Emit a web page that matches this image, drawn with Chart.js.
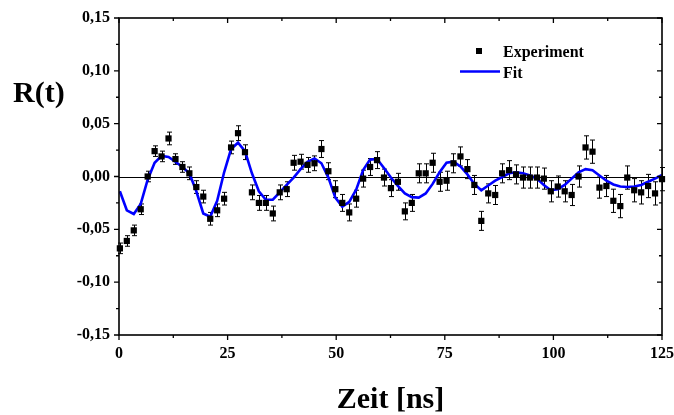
<!DOCTYPE html>
<html>
<head>
<meta charset="utf-8">
<script src="https://cdn.jsdelivr.net/npm/chart.js@4"></script>
<style>
  html, body { margin: 0; padding: 0; background: #fff; }
  #wrap { width: 674px; height: 415px; }
</style>
</head>
<body>
<div id="wrap"><canvas id="mainChart" width="674" height="415"></canvas></div>
<script>
// Data
var times = [0.2, 1.8, 3.4, 5.0, 6.6, 8.2, 9.8, 11.4, 13.0, 14.6,
  16.2, 17.8, 19.4, 21.0, 22.6, 24.2, 25.8, 27.4, 29.0, 30.6,
  32.2, 33.8, 35.4, 37.0, 38.6, 40.2, 41.8, 43.4, 45.0, 46.6,
  48.2, 49.8, 51.4, 53.0, 54.6, 56.2, 57.8, 59.4, 61.0, 62.6,
  64.2, 65.8, 67.4, 69.0, 70.6, 72.2, 73.8, 75.4, 77.0, 78.6,
  80.2, 81.8, 83.4, 85.0, 86.6, 88.2, 89.8, 91.4, 93.0, 94.6,
  96.2, 97.8, 99.4, 101.0, 102.6, 104.2, 105.8, 107.4, 109.0, 110.6,
  112.2, 113.8, 115.4, 117.0, 118.6, 120.2, 121.8, 123.4, 125.0];

var experiment = [-0.068, -0.061, -0.051, -0.031, 0.000, 0.024, 0.019, 0.036, 0.0165, 0.009,
  0.003, -0.010, -0.019, -0.040, -0.032, -0.021, 0.0275, 0.041, 0.023, -0.015,
  -0.025, -0.025, -0.035, -0.015, -0.012, 0.013, 0.014, 0.011, 0.0125, 0.026,
  0.005, -0.012, -0.025, -0.034, -0.021, -0.002, 0.009, 0.0155, -0.001, -0.011,
  -0.005, -0.033, -0.025, 0.003, 0.003, 0.013, -0.005, -0.004, 0.0125, 0.019,
  0.007, -0.008, -0.042, -0.016, -0.0175, 0.003, 0.006, 0.002, -0.001, -0.001,
  -0.001, -0.002, -0.014, -0.0095, -0.014, -0.0175, 0.000, 0.0275, 0.0235, -0.0105,
  -0.009, -0.023, -0.028, -0.001, -0.013, -0.015, -0.009, -0.016, -0.0025];

var errors = [0.005, 0.005, 0.005, 0.005, 0.005, 0.005, 0.005, 0.006, 0.005, 0.005,
  0.006, 0.006, 0.006, 0.006, 0.006, 0.006, 0.006, 0.007, 0.007, 0.007,
  0.007, 0.007, 0.007, 0.007, 0.007, 0.007, 0.007, 0.007, 0.007, 0.008,
  0.008, 0.008, 0.008, 0.008, 0.008, 0.008, 0.008, 0.008, 0.008, 0.008,
  0.008, 0.008, 0.008, 0.009, 0.009, 0.009, 0.009, 0.009, 0.009, 0.009,
  0.009, 0.009, 0.009, 0.009, 0.009, 0.009, 0.009, 0.009, 0.010, 0.010,
  0.010, 0.010, 0.010, 0.010, 0.010, 0.010, 0.010, 0.011, 0.011, 0.010,
  0.010, 0.011, 0.011, 0.011, 0.011, 0.011, 0.011, 0.011, 0.011];

var fit = [-0.014, -0.032, -0.0355, -0.026, -0.003, 0.013, 0.0195, 0.0185, 0.014, 0.009,
  0.003, -0.014, -0.035, -0.038, -0.023, 0.004, 0.026, 0.032, 0.024, 0.003,
  -0.014, -0.022, -0.022, -0.015, -0.008, -0.001, 0.007, 0.014, 0.017, 0.0125,
  -0.001, -0.020, -0.0285, -0.024, -0.0125, 0.006, 0.016, 0.0165, 0.008, -0.001,
  -0.009, -0.016, -0.0195, -0.020, -0.016, -0.007, 0.004, 0.013, 0.014, 0.0095,
  0.002, -0.007, -0.013, -0.0085, -0.004, -0.0005, 0.003, 0.004, 0.003, 0.001,
  -0.002, -0.008, -0.013, -0.012, -0.008, -0.002, 0.004, 0.007, 0.006, 0.001,
  -0.004, -0.0075, -0.0095, -0.010, -0.0095, -0.008, -0.005, -0.002, 0.0014];

var xTicks = [0, 25, 50, 75, 100, 125];
var xTickLabels = ["0", "25", "50", "75", "100", "125"];
var yTicks = [-0.15, -0.10, -0.05, 0.00, 0.05, 0.10, 0.15];
var yTickLabels = ["-0,15", "-0,10", "-0,05", "0,00", "0,05", "0,10", "0,15"];

var FONT = "'Liberation Serif', 'Times New Roman', serif";
var BLUE = "#0000ff";

function findLabel(v, vals, labels) {
  for (var i = 0; i < vals.length; i++) {
    if (Math.abs(vals[i] - v) < 1e-6) return labels[i];
  }
  return "";
}

// error bars, zero line, frame, titles, legend
var framePlugin = {
  id: "frame",
  beforeDatasetsDraw: function (chart) {
    var ctx = chart.ctx, xs = chart.scales.x, ys = chart.scales.y;
    var area = chart.chartArea;
    ctx.save();
    ctx.strokeStyle = "#000";
    ctx.lineWidth = 1;
    var y0 = Math.round(ys.getPixelForValue(0)) + 0.5;
    ctx.beginPath();
    ctx.moveTo(area.left, y0);
    ctx.lineTo(area.right, y0);
    ctx.stroke();

    for (var i = 0; i < times.length; i++) {
      var px = Math.round(xs.getPixelForValue(times[i])) + 0.5;
      var top = ys.getPixelForValue(experiment[i] + errors[i]);
      var bot = ys.getPixelForValue(experiment[i] - errors[i]);
      ctx.beginPath();
      ctx.moveTo(px, top);
      ctx.lineTo(px, bot);
      ctx.moveTo(px - 2.5, top);
      ctx.lineTo(px + 2.5, top);
      ctx.moveTo(px - 2.5, bot);
      ctx.lineTo(px + 2.5, bot);
      ctx.stroke();
    }
    ctx.restore();
  },
  afterDraw: function (chart) {
    var ctx = chart.ctx, xs = chart.scales.x, ys = chart.scales.y;
    var a = chart.chartArea;
    ctx.save();
    ctx.strokeStyle = "#000";
    ctx.lineWidth = 1.6;
    ctx.strokeRect(a.left, a.top, a.right - a.left, a.bottom - a.top);

    // tick marks: outward on left/bottom, inward on top/right
    ctx.lineWidth = 1.3;
    ctx.beginPath();
    xs.ticks.forEach(function (t) {
      var px = xs.getPixelForValue(t.value);
      var len = findLabel(t.value, xTicks, xTickLabels) ? 5 : 3;
      ctx.moveTo(px, a.bottom);
      ctx.lineTo(px, a.bottom + len);
      ctx.moveTo(px, a.top);
      ctx.lineTo(px, a.top + len);
    });
    ys.ticks.forEach(function (t) {
      var py = ys.getPixelForValue(t.value);
      var len = findLabel(t.value, yTicks, yTickLabels) ? 5 : 3;
      ctx.moveTo(a.left, py);
      ctx.lineTo(a.left - len, py);
      ctx.moveTo(a.right, py);
      ctx.lineTo(a.right - len, py);
    });
    ctx.stroke();

    // axis titles
    ctx.fillStyle = "#000";
    ctx.font = "bold 30px " + FONT;
    ctx.textAlign = "left";
    ctx.textBaseline = "alphabetic";
    ctx.fillText("R(t)", 13, 102);
    ctx.textAlign = "center";
    ctx.fillText("Zeit [ns]", (a.left + a.right) / 2, 408);

    // legend
    ctx.fillRect(476, 48, 6, 6);
    ctx.strokeStyle = BLUE;
    ctx.lineWidth = 2.5;
    ctx.beginPath();
    ctx.moveTo(460, 71.5);
    ctx.lineTo(500, 71.5);
    ctx.stroke();
    ctx.font = "bold 16px " + FONT;
    ctx.textAlign = "left";
    ctx.fillText("Experiment", 503, 57);
    ctx.fillText("Fit", 503, 78);
    ctx.restore();
  }
};

var expPoints = times.map(function (t, i) { return { x: t, y: experiment[i] }; });
var fitPoints = times.map(function (t, i) { return { x: t, y: fit[i] }; });

var ctx = document.getElementById("mainChart").getContext("2d");
var myChart = new Chart(ctx, {
  type: "scatter",
  data: {
    datasets: [
      {
        label: "Fit",
        data: fitPoints,
        showLine: true,
        borderColor: BLUE,
        borderWidth: 2.6,
        pointRadius: 0,
        tension: 0,
        order: 2,
      },
      {
        label: "Experiment",
        data: expPoints,
        pointStyle: "rect",
        pointRadius: 4.4,
        backgroundColor: "#000",
        borderColor: "#000",
        borderWidth: 0,
        clip: false,
        order: 1,
      },
    ],
  },
  options: {
    responsive: false,
    animation: false,
    devicePixelRatio: 1,
    layout: { padding: { left: 0, top: 18, right: 12, bottom: 0 } },
    plugins: {
      legend: { display: false },
      tooltip: { enabled: false },
    },
    scales: {
      x: {
        type: "linear",
        min: 0,
        max: 125,
        grid: { display: false, drawTicks: false },
        border: { display: false },
        ticks: {
          stepSize: 12.5,
          autoSkip: false,
          maxRotation: 0,
          padding: 9,
          color: "#000",
          font: { family: FONT, size: 16, weight: "bold" },
          callback: function (v) { return findLabel(v, xTicks, xTickLabels); },
        },
        afterFit: function (scale) {
          scale.height = 80;
          scale.paddingLeft = 0;
          scale.paddingRight = 0;
        },
      },
      y: {
        type: "linear",
        min: -0.15,
        max: 0.15,
        grid: { display: false, drawTicks: false },
        border: { display: false },
        ticks: {
          stepSize: 0.025,
          autoSkip: false,
          padding: 9,
          color: "#000",
          font: { family: FONT, size: 16, weight: "bold" },
          callback: function (v) { return findLabel(v, yTicks, yTickLabels); },
        },
        afterFit: function (scale) {
          scale.width = 119;
          scale.paddingTop = 0;
          scale.paddingBottom = 0;
        },
      },
    },
  },
  plugins: [framePlugin],
});
</script>
</body>
</html>
